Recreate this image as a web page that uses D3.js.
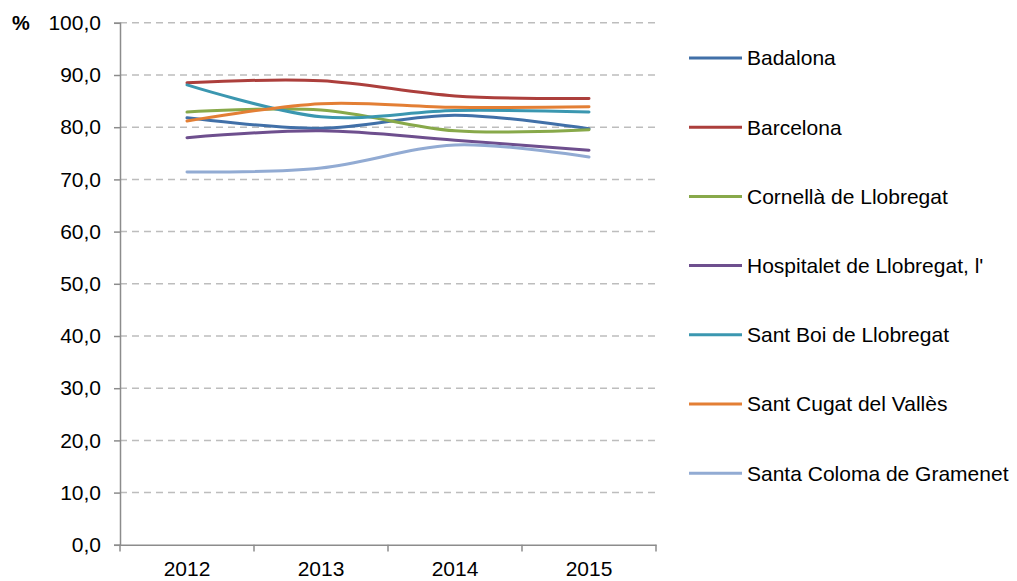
<!DOCTYPE html>
<html><head><meta charset="utf-8">
<script src="https://cdn.jsdelivr.net/npm/d3@7"></script>
<style>body{margin:0;background:#fff;} svg{display:block;font-family:"Liberation Sans",Arial,sans-serif;}</style>
</head><body><svg id="c" width="1017" height="581"></svg>
<script>
const years = ["2012","2013","2014","2015"];
const seriesNames = ["Badalona","Barcelona","Cornellà de Llobregat","Hospitalet de Llobregat, l'","Sant Boi de Llobregat","Sant Cugat del Vallès","Santa Coloma de Gramenet"];
const badalona = [81.8, 79.8, 82.3, 79.7];
const barcelona = [88.5, 88.9, 86.0, 85.5];
const cornella = [82.9, 83.3, 79.3, 79.5];
const hospitalet = [78.0, 79.3, 77.5, 75.6];
const santBoi = [88.1, 82.0, 83.2, 82.9];
const santCugat = [81.2, 84.5, 83.8, 83.9];
const santaColoma = [71.4, 72.2, 76.6, 74.3];
const colors = ["#4170A8","#AC3F3C","#88A94A","#6E4F8E","#3B97B0","#E37F35","#92ABD3"];
const yTicks = [0,10,20,30,40,50,60,70,80,90,100];

const data = [badalona, barcelona, cornella, hospitalet, santBoi, santCugat, santaColoma];
const svg = d3.select("#c");
const x = d3.scaleBand().domain(years).range([120, 656]);
const y = d3.scaleLinear().domain([0,100]).range([544.8, 22.8]);
const fmt = v => v.toFixed(1).replace(".", ",");
const fs = "21px";

// gridlines
svg.append("g").selectAll("line").data(yTicks.filter(d=>d>0)).join("line")
  .attr("x1",120).attr("x2",656).attr("y1",d=>y(d)).attr("y2",d=>y(d))
  .attr("stroke","#BDBDBD").attr("stroke-width",1.5).attr("stroke-dasharray","7,5");

// y axis
const ya = svg.append("g").attr("transform","translate(120,0)")
  .call(d3.axisLeft(y).tickValues(yTicks).tickFormat(fmt).tickSize(6).tickPadding(13));
ya.select(".domain").attr("stroke","#8C8C8C").attr("stroke-width",1.5);
ya.selectAll(".tick line").attr("stroke","#8C8C8C").attr("stroke-width",1.5);
ya.selectAll("text").attr("font-size",fs).attr("fill","#000").attr("font-family","Liberation Sans, Arial, sans-serif");

// x axis
const xa = svg.append("g").attr("transform","translate(0,544.8)")
  .call(d3.axisBottom(x).tickSize(0).tickPadding(16));
xa.select(".domain").attr("stroke","#8C8C8C").attr("stroke-width",1.5);
xa.selectAll("text").attr("font-size",fs).attr("fill","#000").attr("font-family","Liberation Sans, Arial, sans-serif");
const bounds = years.map(yr=>x(yr)).concat([656]);
svg.append("g").selectAll("line").data(bounds).join("line")
  .attr("x1",d=>d).attr("x2",d=>d).attr("y1",544.8).attr("y2",551.5)
  .attr("stroke","#8C8C8C").attr("stroke-width",1.5);

// % label
svg.append("text").attr("x",12).attr("y",30).attr("font-size","20px").attr("font-weight","bold").text("%");

// lines
const line = d3.line().x((d,i)=>x(years[i])+x.bandwidth()/2).y(d=>y(d)).curve(d3.curveCatmullRom.alpha(0));
svg.append("g").selectAll("path").data(data).join("path")
  .attr("d", line).attr("fill","none").attr("stroke",(d,i)=>colors[i])
  .attr("stroke-width",3).attr("stroke-linecap","round");

// legend
const lg = svg.append("g").selectAll("g").data(seriesNames).join("g")
  .attr("transform",(d,i)=>`translate(0,${58 + i*69.2})`);
lg.append("line").attr("x1",689).attr("x2",742).attr("y1",0).attr("y2",0)
  .attr("stroke",(d,i)=>colors[i]).attr("stroke-width",3);
lg.append("text").attr("x",747).attr("y",0).attr("dy","0.35em").attr("font-size",fs).text(d=>d);
</script></body></html>
